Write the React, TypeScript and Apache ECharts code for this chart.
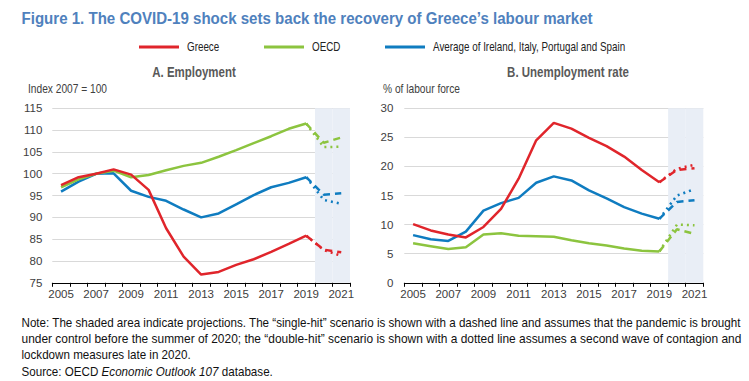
import React, { useEffect, useRef } from 'react';
import * as echarts from 'echarts';

const FONT = '"Liberation Sans", Arial, sans-serif';

const years = ['2005', '2006', '2007', '2008', '2009', '2010', '2011', '2012', '2013', '2014', '2015', '2016', '2017', '2018', '2019', '2020', '2021'];
const projectionYears = ['2020', '2021'];
const seriesNames = ['Greece', 'OECD', 'Average of Ireland, Italy, Portugal and Spain'];
const colors = ['#e0252b', '#8cc43f', '#0f7cc0'];

// Panel A: Employment (index 2007 = 100), 2005-2019
const greeceEmp = [97.4, 99.2, 100, 101.0, 99.8, 96.3, 87.5, 81.0, 76.9, 77.5, 79.1, 80.4, 82.1, 83.9, 85.8];
const oecdEmp = [96.9, 98.7, 100, 100.7, 99.2, 99.7, 100.8, 101.8, 102.5, 103.9, 105.4, 107.0, 108.6, 110.3, 111.5];
const southEmp = [95.9, 98.2, 100, 100.1, 96.1, 94.7, 93.8, 91.8, 90.0, 90.9, 93.0, 95.1, 96.9, 97.9, 99.2];
// projections 2019-2021
const greeceEmpSingle = [85.8, 82.6, 82.0];
const greeceEmpDouble = [85.8, 82.5, 81.2];
const oecdEmpSingle = [111.5, 107.1, 108.3];
const oecdEmpDouble = [111.5, 106.1, 106.2];
const southEmpSingle = [99.2, 95.2, 95.5];
const southEmpDouble = [99.2, 94.0, 93.1];

// Panel B: Unemployment rate (% of labour force), 2005-2019
const greeceUnemp = [10.1, 9.0, 8.3, 7.8, 9.6, 12.7, 17.9, 24.5, 27.5, 26.5, 24.9, 23.5, 21.7, 19.4, 17.3];
const oecdUnemp = [6.8, 6.3, 5.8, 6.1, 8.3, 8.5, 8.1, 8.0, 7.9, 7.3, 6.8, 6.4, 5.9, 5.5, 5.4];
const southUnemp = [8.2, 7.5, 7.2, 8.8, 12.4, 13.7, 14.6, 17.2, 18.3, 17.6, 15.9, 14.5, 13.0, 11.9, 11.0];
const greeceUnempSingle = [17.3, 19.4, 19.7];
const greeceUnempDouble = [17.3, 19.6, 20.3];
const oecdUnempSingle = [5.4, 9.2, 8.4];
const oecdUnempDouble = [5.4, 10.0, 9.9];
const southUnempSingle = [11.0, 13.9, 14.2];
const southUnempDouble = [11.0, 15.0, 16.1];

const empTicks = { min: 75, max: 115, interval: 5 };
const unempTicks = { min: 0, max: 30, interval: 5 };

const titleText = 'Figure 1. The COVID-19 shock sets back the recovery of Greece\u2019s labour market';
const panelTitles = ['A. Employment', 'B. Unemployment rate'];
const unitLabels = ['Index 2007 = 100', '% of labour force'];
const noteLines = [
  'Note: The shaded area indicate projections. The \u201csingle-hit\u201d scenario is shown with a dashed line and assumes that the pandemic is brought',
  'under control before the summer of 2020; the \u201cdouble-hit\u201d scenario is shown with a dotted line assumes a second wave of contagion and',
  'lockdown measures late in 2020.',
];
const sourceText = ['Source: OECD ', 'Economic Outlook 107', ' database.'];

const NARROW = 0.82;

const hist = (v: number[]) => [...v, ...years.slice(v.length).map(() => null)];
const proj = (v: number[]) => [...years.slice(0, years.length - v.length).map(() => null), ...v];

let ctx: CanvasRenderingContext2D | null = null;
function measure(text: string, size: number, weight = 'normal', style = 'normal') {
  if (!ctx) ctx = document.createElement('canvas').getContext('2d');
  if (!ctx) return text.length * size * 0.5;
  ctx.font = `${style} ${weight} ${size}px "Liberation Sans", Arial, sans-serif`;
  return ctx.measureText(text).width;
}

function panelSeries(idx: number, h: number[][], single: number[][], dbl: number[][], yMax: number) {
  const out: any[] = [];
  out.push({
    type: 'bar',
    name: 'projection' + idx,
    xAxisIndex: idx,
    yAxisIndex: idx,
    data: years.map((y) => (projectionYears.includes(y) ? yMax : null)),
    barWidth: '100%',
    barCategoryGap: '0%',
    itemStyle: { color: '#e9eef6' },
    silent: true,
    z: 0,
  });
  [2, 1, 0].forEach((k) => {
    const base = { type: 'line', xAxisIndex: idx, yAxisIndex: idx, symbol: 'none', itemStyle: { color: colors[k] }, z: 3 };
    out.push({ ...base, name: seriesNames[k], data: hist(h[k]), lineStyle: { color: colors[k], width: 2.5 } });
    out.push({ ...base, name: seriesNames[k] + ' single-hit', data: proj(single[k]), lineStyle: { color: colors[k], width: 2.5, type: [7, 5] } });
    out.push({ ...base, name: seriesNames[k] + ' double-hit', data: proj(dbl[k]), lineStyle: { color: colors[k], width: 2.5, type: [2, 4] } });
  });
  return out;
}

function xAxis(gridIndex: number) {
  return {
    type: 'category',
    gridIndex,
    data: years,
    boundaryGap: true,
    axisLine: { lineStyle: { color: '#000', width: 1 } },
    axisTick: { show: true, interval: 0, length: 4, lineStyle: { color: '#000' } },
    axisLabel: { interval: 1, color: '#404040', fontSize: 11.5, fontFamily: FONT, margin: 5 },
    splitLine: { show: false },
  };
}

function yAxis(gridIndex: number, t: { min: number; max: number; interval: number }, margin: number) {
  return {
    type: 'value',
    gridIndex,
    min: t.min,
    max: t.max,
    interval: t.interval,
    axisLine: { show: false },
    axisTick: { show: false },
    axisLabel: { color: '#404040', fontSize: 11.5, fontFamily: FONT, margin },
    splitLine: { lineStyle: { color: '#d9d9d9', width: 1 } },
  };
}

export default function App() {
  const ref = useRef<HTMLDivElement>(null);
  useEffect(() => {
    if (!ref.current) return;
    const chart = echarts.init(ref.current, undefined, { renderer: 'svg' });
    const ts = (size: number, color: string, weight: string = 'normal') => ({
      fontSize: size,
      fill: color,
      fontFamily: FONT,
      fontWeight: weight,
    });

    const titleScale = 572 / measure(titleText, 17, 'bold');
    const noteScales = noteLines.slice(0, 2).map((t) => 720 / measure(t, 12.5));
    const baseNote = Math.min(...noteScales);

    const legendX = [139, 264, 385];
    const legendItems: any[] = [];
    seriesNames.forEach((n, i) => {
      legendItems.push({
        type: 'line',
        shape: { x1: legendX[i], y1: 47, x2: legendX[i] + 40, y2: 47 },
        style: { stroke: colors[i], lineWidth: 3 },
      });
      legendItems.push({
        type: 'text',
        x: legendX[i] + 48,
        y: 47,
        scaleX: NARROW,
        style: { text: n, ...ts(12, '#222'), verticalAlign: 'middle' },
      });
    });

    chart.setOption({
      animation: false,
      backgroundColor: '#fff',
      grid: [
        { left: 52.3, top: 108.3, width: 297.7, height: 174.5 },
        { left: 404.3, top: 108.3, width: 299, height: 174.5 },
      ],
      xAxis: [xAxis(0), xAxis(1)],
      yAxis: [yAxis(0, empTicks, 10), yAxis(1, unempTicks, 11)],
      series: [
        ...panelSeries(
          0,
          [greeceEmp, oecdEmp, southEmp],
          [greeceEmpSingle, oecdEmpSingle, southEmpSingle],
          [greeceEmpDouble, oecdEmpDouble, southEmpDouble],
          empTicks.max
        ),
        ...panelSeries(
          1,
          [greeceUnemp, oecdUnemp, southUnemp],
          [greeceUnempSingle, oecdUnempSingle, southUnempSingle],
          [greeceUnempDouble, oecdUnempDouble, southUnempDouble],
          unempTicks.max
        ),
      ],
      graphic: [
        {
          type: 'text',
          x: 21.5,
          y: 17.5,
          scaleX: titleScale,
          style: { text: titleText, ...ts(17, '#4f81bd', 'bold'), verticalAlign: 'middle' },
        },
        ...legendItems,
        {
          type: 'text',
          x: 194,
          y: 72,
          scaleX: NARROW,
          style: { text: panelTitles[0], ...ts(14, '#595959', 'bold'), align: 'center', verticalAlign: 'middle' },
        },
        {
          type: 'text',
          x: 568,
          y: 72,
          scaleX: NARROW,
          style: { text: panelTitles[1], ...ts(14, '#595959', 'bold'), align: 'center', verticalAlign: 'middle' },
        },
        {
          type: 'text',
          x: 28,
          y: 89,
          scaleX: 0.85,
          style: { text: unitLabels[0], ...ts(12, '#404040'), verticalAlign: 'middle' },
        },
        {
          type: 'text',
          x: 383,
          y: 89,
          scaleX: 0.85,
          style: { text: unitLabels[1], ...ts(12, '#404040'), verticalAlign: 'middle' },
        },
        ...noteLines.map((t, i) => ({
          type: 'text',
          x: 21.5,
          y: 322.5 + i * 16.3,
          scaleX: i < 2 ? noteScales[i] : baseNote,
          style: { text: t, ...ts(12.5, '#111'), verticalAlign: 'middle' },
        })),
        {
          type: 'text',
          x: 21.5,
          y: 322.5 + 3 * 16.3,
          scaleX: baseNote,
          style: {
            text: sourceText[0] + '{i|' + sourceText[1] + '}' + sourceText[2],
            ...ts(12.5, '#111'),
            verticalAlign: 'middle',
            rich: { i: { fontStyle: 'italic', fontSize: 12.5, fontFamily: FONT, fill: '#111' } },
          },
        },
      ],
    });
    return () => chart.dispose();
  }, []);
  return <div ref={ref} style={{ position: 'fixed', left: 0, top: 0, width: 749, height: 381 }} />;
}
